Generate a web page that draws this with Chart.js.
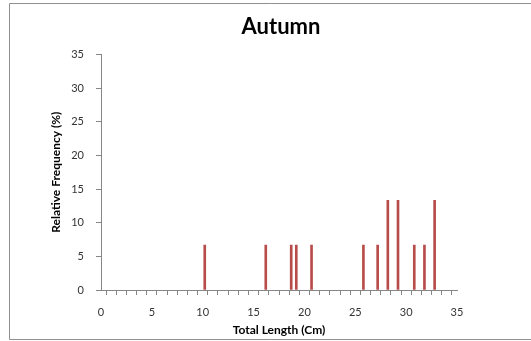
<!DOCTYPE html>
<html>
<head>
<meta charset="utf-8">
<script src="https://cdn.jsdelivr.net/npm/chart.js@4"></script>
<style>
  html, body { margin: 0; padding: 0; background: #fff; overflow: hidden; }
  canvas { display: block; }
</style>
</head>
<body>
<canvas id="chart" width="531" height="341"></canvas>
<script>
  "use strict";

  const lengths = [10.2, 16.2, 18.7, 19.2, 20.7, 25.8, 27.2, 28.2, 29.2, 30.8, 31.8, 32.8];
  const frequency = [6.67, 6.67, 6.67, 6.67, 6.67, 6.67, 6.67, 13.33, 13.33, 6.67, 6.67, 13.33];
  const xTicks = [0, 5, 10, 15, 20, 25, 30, 35];
  const yTicks = [0, 5, 10, 15, 20, 25, 30, 35];

  const axisColor = '#868686';
  const font = 'Lato, "Open Sans", sans-serif';

  // grey outline of the chart box; its right side runs off the picture
  const frame = {
    id: 'frame',
    beforeDraw(chart) {
      const ctx = chart.ctx;
      ctx.save();
      ctx.strokeStyle = '#8f8f8f';
      ctx.lineWidth = 1;
      ctx.beginPath();
      ctx.moveTo(540, 3.5);
      ctx.lineTo(9.5, 3.5);
      ctx.lineTo(9.5, 339.5);
      ctx.lineTo(540, 339.5);
      ctx.stroke();
      ctx.restore();
    }
  };

  new Chart(document.getElementById('chart'), {
    type: 'bar',
    data: {
      datasets: [{
        label: 'Autumn',
        data: lengths.map((x, i) => ({x: x, y: frequency[i]})),
        backgroundColor: '#B84C4A',
        barThickness: 2,
        yAxisID: 'y'
      }]
    },
    options: {
      responsive: false,
      animation: false,
      layout: { padding: { left: 31, right: 0, top: 0, bottom: 0 } },
      plugins: {
        legend: { display: false },
        tooltip: { enabled: false },
        title: {
          display: true,
          text: 'Autumn',
          color: '#000',
          font: { family: font, size: 22, weight: 'bold' },
          padding: { top: 14, bottom: 14 }
        }
      },
      scales: {
        x: {
          type: 'linear',
          offset: false,
          min: 0,
          max: 35,
          border: { color: axisColor, width: 1 },
          grid: { drawOnChartArea: false, color: axisColor, tickLength: 5 },
          ticks: {
            stepSize: 1,
            autoSkip: false,
            maxRotation: 0,
            padding: 11,
            color: '#333',
            font: { family: font, size: 11 },
            callback: v => xTicks.includes(v) ? v : ''
          },
          title: {
            display: true,
            text: 'Total Length (Cm)',
            color: '#000',
            font: { family: font, size: 12, weight: 'bold' },
            padding: { top: 0, bottom: 4 }
          },
          afterFit: s => { s.height = 51; }
        },
        y: {
          min: 0,
          max: 35,
          border: { color: axisColor, width: 1 },
          grid: { drawOnChartArea: false, color: axisColor, tickLength: 5 },
          afterBuildTicks: s => { s.ticks = yTicks.map(v => ({value: v})); },
          ticks: {
            padding: 12,
            color: '#333',
            font: { family: font, size: 11 }
          },
          title: {
            display: true,
            text: 'Relative Frequency (%)',
            color: '#000',
            font: { family: font, size: 12, weight: 'bold' },
            padding: { top: 18, bottom: 0 }
          },
          afterFit: s => { s.width = 70; }
        },
        // empty space on the right so the plot ends at 35 where the original does
        spacer: {
          position: 'right',
          min: 0,
          max: 1,
          border: { display: false },
          grid: { display: false },
          ticks: { display: false },
          afterFit: s => { s.width = 74; }
        }
      }
    },
    plugins: [frame]
  });
</script>
</body>
</html>
